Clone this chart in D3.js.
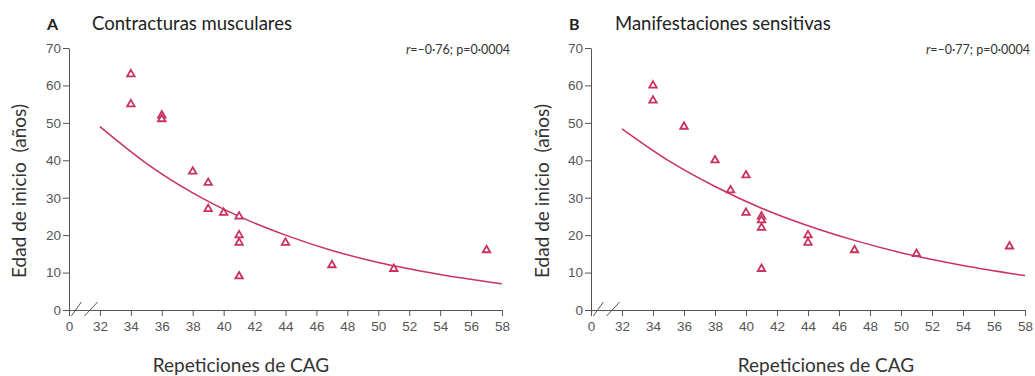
<!DOCTYPE html>
<html>
<head>
<meta charset="utf-8">
<script src="https://cdn.jsdelivr.net/npm/d3@7/dist/d3.min.js"></script>
<style>
  html, body { margin: 0; padding: 0; background: #fff; }
  svg { display: block; font-family: Lato, "Open Sans", sans-serif; }
  .tick text { fill: #555; font-size: 13.5px; }
  .tick line, .domain { stroke: #555; }
</style>
</head>
<body>
<svg id="chart" width="1035" height="376"></svg>
<script>
// ---- data ----
const xTicks = [30, 32, 34, 36, 38, 40, 42, 44, 46, 48, 50, 52, 54, 56, 58]; // 30 is the broken-axis "0"
const yTicks = [0, 10, 20, 30, 40, 50, 60, 70];

const panelLetters = ["A", "B"];
const panelTitles = ["Contracturas musculares", "Manifestaciones sensitivas"];
const panelStats = [["–0·76", "0·0004"], ["–0·77", "0·0004"]];

const cagA = [34, 34, 36, 36, 38, 39, 39, 40, 41, 41, 41, 41, 44, 47, 51, 57];
const ageA = [63, 55, 52, 51, 37, 34, 27, 26, 25, 20, 18, 9, 18, 12, 11, 16];
const cagB = [34, 34, 36, 38, 40, 39, 40, 41, 41, 41, 41, 44, 44, 47, 51, 57];
const ageB = [60, 56, 49, 40, 36, 32, 26, 25, 24, 22, 11, 20, 18, 16, 15, 17];

const fitX = [32, 35, 38, 41, 44, 47, 50, 54, 58];
const fitA = [49, 39.2, 31.3, 25.0, 20.0, 15.9, 12.7, 9.5, 7.0];
const fitB = [48.4, 39.9, 33.0, 27.2, 22.5, 18.6, 15.3, 11.9, 9.2];

const xLabel = "Repeticiones de CAG";
const yLabel = "Edad de inicio  (años)";

// ---- drawing ----
const svg = d3.select("#chart");
const color = "#c9325e";

const panels = [
  { x0: 69, x1: 502, xl: 241, yl: 20, letterX: 47, titleX: 92, statX: 510, cag: cagA, age: ageA, fit: fitA },
  { x0: 591, x1: 1025, xl: 826, yl: 543, letterX: 569, titleX: 615, statX: 1030, cag: cagB, age: ageB, fit: fitB }
];

const y = d3.scaleLinear().domain([0, 70]).range([310, 48]);

panels.forEach((p, i) => {
  const g = svg.append("g");
  const x = d3.scaleLinear().domain([30, 58]).range([p.x0, p.x1]);

  // axes
  g.append("g")
    .attr("transform", `translate(0,${y(0)})`)
    .call(d3.axisBottom(x).tickValues(xTicks).tickSize(6).tickSizeOuter(0)
      .tickFormat(d => d === 30 ? "0" : d))
    .call(a => a.selectAll(".tick text").attr("dy", "0.9em"));
  g.append("g")
    .attr("transform", `translate(${x(30)},0)`)
    .call(d3.axisLeft(y).tickValues(yTicks).tickSize(6).tickSizeOuter(0))
    .call(a => a.selectAll(".tick text").attr("x", -8));

  // axis break marks
  const brk = [[30.15, 30.8], [31.0, 31.85]];
  brk.forEach(b => {
    g.append("line")
      .attr("x1", x(b[0])).attr("y1", y(0) + 6)
      .attr("x2", x(b[1])).attr("y2", y(0) - 8)
      .attr("stroke", "#555").attr("stroke-width", 1);
  });

  // fitted curve
  const line = d3.line().x((d, j) => x(fitX[j])).y(d => y(d)).curve(d3.curveMonotoneX);
  g.append("path").datum(p.fit)
    .attr("d", line)
    .attr("fill", "none")
    .attr("stroke", color)
    .attr("stroke-width", 1.5);

  // points
  const tri = d3.symbol().type(d3.symbolTriangle).size(24);
  g.selectAll(".pt").data(p.cag.map((c, j) => [c, p.age[j]]))
    .join("path")
    .attr("class", "pt")
    .attr("d", tri)
    .attr("transform", d => `translate(${x(d[0])},${y(d[1])})`)
    .attr("fill", "#fff")
    .attr("stroke", color)
    .attr("stroke-width", 1.8);

  // titles
  svg.append("text").attr("x", p.letterX).attr("y", 30)
    .attr("font-size", 16).attr("font-weight", "bold").attr("fill", "#222")
    .text(panelLetters[i]);
  svg.append("text").attr("x", p.titleX).attr("y", 30)
    .attr("font-size", 18.5).attr("fill", "#222")
    .text(panelTitles[i]);

  // stat annotation
  const st = svg.append("text").attr("x", p.statX).attr("y", 54)
    .attr("text-anchor", "end").attr("font-size", 12.5).attr("fill", "#333");
  st.append("tspan").attr("font-style", "italic").text("r");
  st.append("tspan").text(`=${panelStats[i][0]}; p=${panelStats[i][1]}`);

  // axis labels
  svg.append("text").attr("x", p.xl).attr("y", 372)
    .attr("text-anchor", "middle").attr("font-size", 19).attr("fill", "#333")
    .text(xLabel);
  svg.append("text")
    .attr("transform", `translate(${p.yl + 6},191) rotate(-90)`)
    .attr("text-anchor", "middle").attr("font-size", 19).attr("fill", "#333")
    .style("white-space", "pre")
    .text(yLabel);
});
</script>
</body>
</html>
